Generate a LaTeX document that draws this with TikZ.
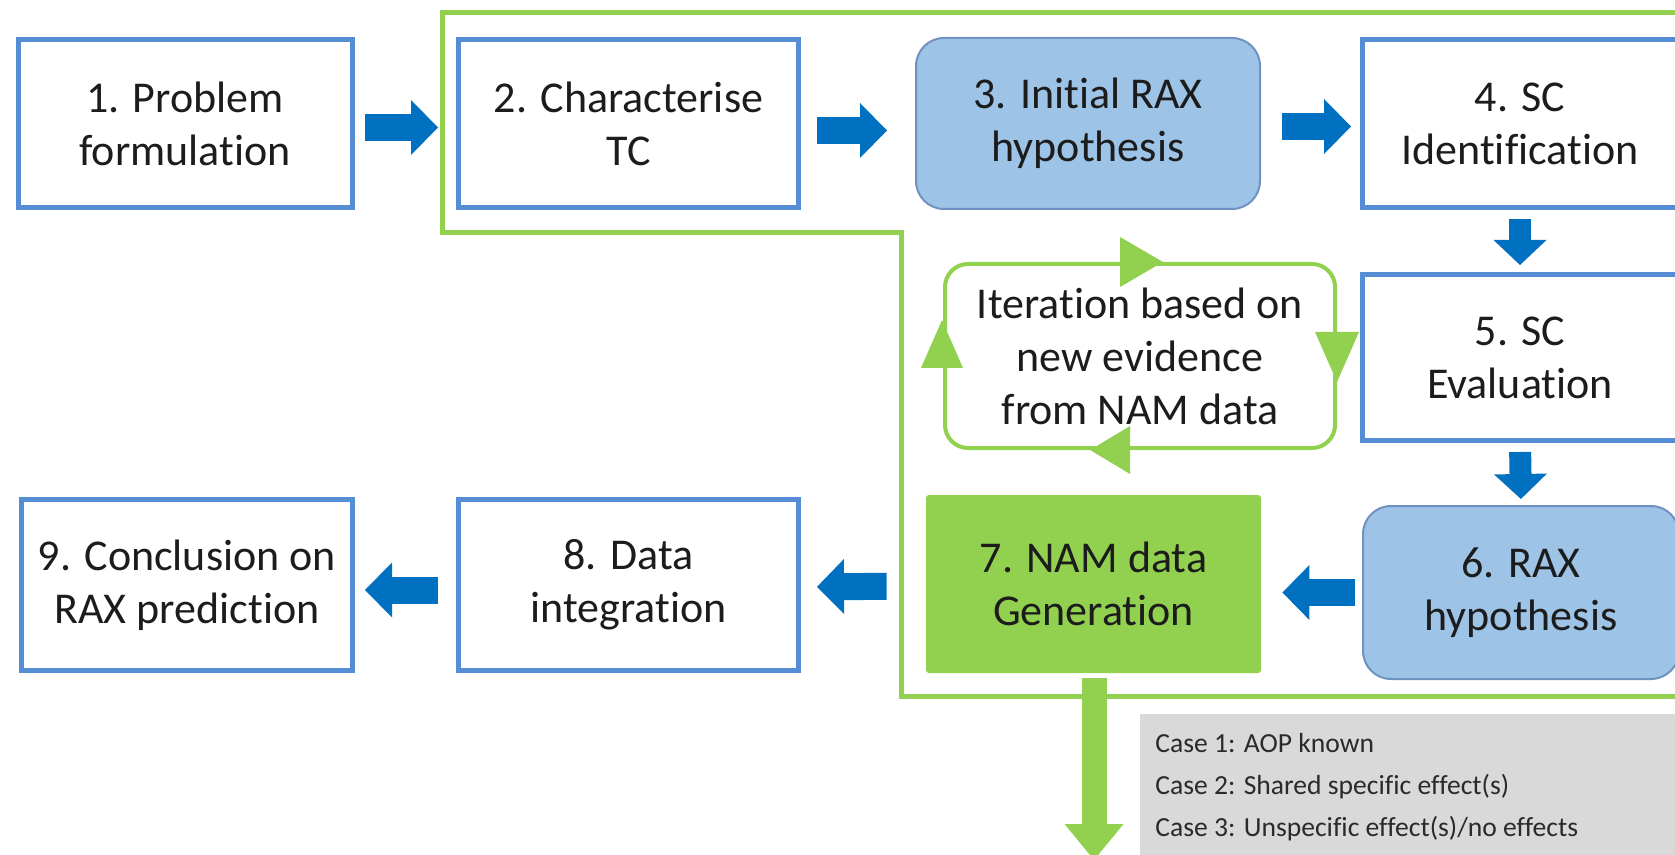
\documentclass[tikz,border=0pt]{standalone}
\usepackage{fontspec}
\setmainfont{Carlito}[Ligatures=CommonOff]
\usetikzlibrary{arrows.meta}
\definecolor{boxblue}{HTML}{558ED5}
\definecolor{arrowblue}{HTML}{0070C0}
\definecolor{lightblue}{HTML}{9DC3E6}
\definecolor{roundedge}{HTML}{7092C0}
\definecolor{ngreen}{HTML}{92D050}
\definecolor{casegray}{HTML}{D9D9D9}
\definecolor{txt}{HTML}{1C1C1C}
\definecolor{casetext}{HTML}{2A2A2A}
\begin{document}
\begin{tikzpicture}[x=0.5pt,y=-0.5pt,
  every node/.style={text=txt, font=\fontsize{22pt}{26.5pt}\selectfont, align=center, inner sep=0pt},
  stepbox/.style={draw=boxblue, line width=2.5pt, fill=white},
  roundbox/.style={draw=roundedge, line width=1pt, fill=lightblue, rounded corners=14pt},
  greenbox/.style={fill=ngreen, rounded corners=1.5pt},
  harrow/.style={draw=arrowblue, line width=13.5pt, -{Triangle[length=13.5pt,width=27.5pt,line width=0pt]}},
  varrow/.style={draw=arrowblue, line width=11pt, -{Triangle[length=12.5pt,width=26.5pt,line width=0pt]}},
  garrow/.style={draw=ngreen, line width=12.5pt, -{Triangle[length=18pt,width=29.5pt,line width=0pt]}},
  frame/.style={draw=ngreen, line width=2.5pt},
  loopbox/.style={draw=ngreen, line width=2pt, rounded corners=11.5pt},
  tri/.style={fill=ngreen}
]
\useasboundingbox (0,0) rectangle (1675,855);
\clip (0,0) rectangle (1675,855);

% green frame
\draw[frame] (1720,13) -- (442,13) -- (442,233) -- (901,233) -- (901,696) -- (1720,696);

% case box
\fill[casegray] (1140,714) rectangle (1720,880);
\node[anchor=base west, align=left, text=casetext, font=\fontsize{13.8pt}{21pt}\selectfont] (cases) at (1155,836)
  {Case 1: AOP known\\Case 2: Shared specific effect(s)\\Case 3: Unspecific effect(s)/no effects};

% boxes
\node[stepbox, minimum width=167pt, minimum height=84pt] (b1) at (185,123.5) {1. Problem\\formulation};
\node[stepbox, minimum width=170pt, minimum height=84pt] (b2) at (628.5,123.5) {2. Characterise\\TC};
\node[roundbox, minimum width=172pt, minimum height=85.5pt] (b3) at (1088,123.5) {3. Initial RAX\\hypothesis};
\node[stepbox, minimum width=157.5pt, minimum height=84pt] (b4) at (1520,123.5) {4. SC\\Identification};
\node[stepbox, minimum width=157.5pt, minimum height=83pt] (b5) at (1520,357.5) {5. SC\\Evaluation};
\node[roundbox, minimum width=158pt, minimum height=86.5pt] (b6) at (1521,592.5) {6. RAX\\hypothesis};
\node[greenbox, minimum width=167.5pt, minimum height=89pt] (b7) at (1093.5,584) {7. NAM data\\Generation};
\node[stepbox, minimum width=170pt, minimum height=85.5pt] (b8) at (628.5,585) {8. Data\\integration};
\node[stepbox, minimum width=165.5pt, minimum height=85.5pt] (b9) at (187,585) {9. Conclusion on\\RAX prediction};

% iteration loop
\node[loopbox, minimum width=195pt, minimum height=92pt] (loop) at (1140,356) {Iteration based on\\new evidence\\from NAM data};
\fill[tri] (1120,237) -- (1120,287) -- (1163,262) -- cycle;
\fill[tri] (1315,332) -- (1359,332) -- (1337,382) -- cycle;
\fill[tri] (1130,426) -- (1130,474) -- (1090,450) -- cycle;
\fill[tri] (921,368) -- (963,368) -- (942,320) -- cycle;

% blue connectors
\draw[harrow, shorten <=5pt, shorten >=9pt] ([yshift=-2pt]b1.east) -- ([yshift=-2pt]b2.west);
\draw[harrow, shorten <=8pt, shorten >=14pt] ([yshift=-3.5pt]b2.east) -- ([yshift=-3.5pt]b3.west);
\draw[harrow, shorten <=10.5pt, shorten >=4.5pt] ([yshift=-1.5pt]b3.east) -- ([yshift=-1.5pt]b4.west);
\draw[varrow, shorten <=4.5pt, shorten >=3.5pt] (b4.south) -- (b5.north);
\draw[varrow, shorten <=4.5pt, shorten >=3pt] (b5.south) -- (b6.north);
\draw[harrow, shorten <=3.5pt, shorten >=10.5pt] (b6.west) -- (b7.east |- b6.west);
\draw[harrow, shorten <=19.5pt, shorten >=8pt] ([yshift=-1pt]b7.west) -- ([yshift=-1pt]b8.east);
\draw[harrow, shorten <=9pt, shorten >=5pt] ([yshift=-2.5pt]b8.west) -- ([yshift=-2.5pt]b9.east);

% green output arrow
\coordinate (gend) at (1094,860);
\draw[garrow, shorten <=2.5pt] (b7.south -| gend) -- (gend);
\end{tikzpicture}
\end{document}
